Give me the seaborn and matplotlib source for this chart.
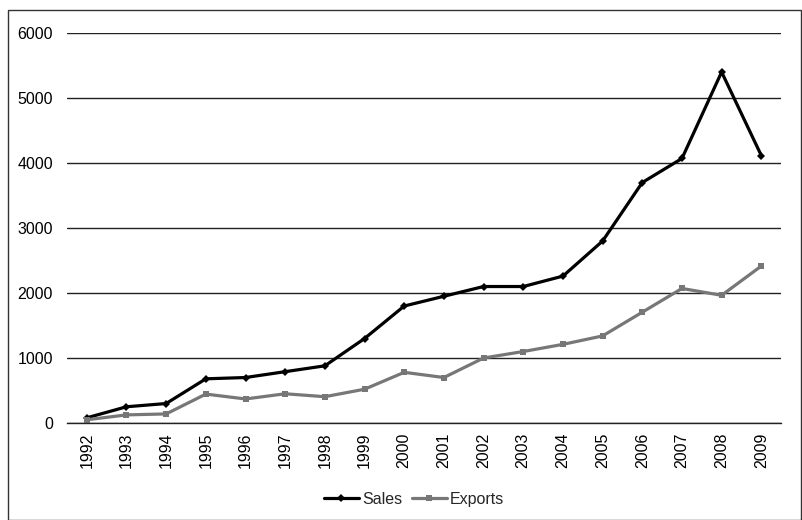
#!/usr/bin/env python3

import pandas as pd
import seaborn as sns
import matplotlib.pyplot as plt
from matplotlib.patches import Rectangle

years = [str(y) for y in range(1992, 2010)]
sales = [80, 250, 300, 680, 700, 790, 880, 1300, 1800, 1950,
         2100, 2100, 2260, 2800, 3700, 4070, 5400, 4115]
exports = [50, 125, 140, 445, 370, 450, 405, 520, 780, 700,
           1000, 1100, 1210, 1340, 1705, 2070, 1965, 2415]

df = pd.DataFrame({
    'year': years * 2,
    'value': sales + exports,
    'series': ['Sales'] * len(years) + ['Exports'] * len(years),
})

sns.set_style('white')
plt.rcParams['font.family'] = ['Liberation Sans', 'DejaVu Sans']
plt.rcParams['font.size'] = 11.5

fig = plt.figure(figsize=(8.02, 5.20), dpi=100)
ax = fig.add_axes([0.0835, 0.1865, 0.8905, 0.75])

sns.lineplot(
    data=df, x='year', y='value', hue='series', style='series',
    palette={'Sales': '#000000', 'Exports': '#777777'},
    markers={'Sales': 'D', 'Exports': 's'},
    dashes=False, markersize=4, markeredgewidth=0, linewidth=2.3,
    sort=False, ax=ax,
)

ax.set_xlim(-0.5, len(years) - 0.5)
ax.set_ylim(0, 6000)
ax.set_yticks(range(0, 6001, 1000))
ax.yaxis.grid(True, color='#222222', linewidth=1)
ax.set_axisbelow(True)
for s in ['top', 'right', 'left']:
    ax.spines[s].set_visible(False)
ax.spines['bottom'].set_color('#222222')
ax.spines['bottom'].set_linewidth(1)
ax.tick_params(axis='both', length=0, labelsize=11.5, colors='black')
ax.tick_params(axis='y', pad=10)
ax.tick_params(axis='x', pad=7)
plt.setp(ax.get_xticklabels(), rotation=90)
ax.set_xlabel('')
ax.set_ylabel('')

ax.legend(
    title=None, loc='upper center', bbox_to_anchor=(0.486, -0.14),
    ncol=2, frameon=False, handlelength=2.2, handletextpad=0.2,
    columnspacing=0.6, fontsize=11.5,
)

fig.patches.append(Rectangle((8 / 802, 0), 1 - 8 / 802 - 0.0015, 1 - 10 / 520,
                             transform=fig.transFigure, fill=False,
                             edgecolor='#333333', linewidth=1))

plt.savefig('out.png', dpi=100)
